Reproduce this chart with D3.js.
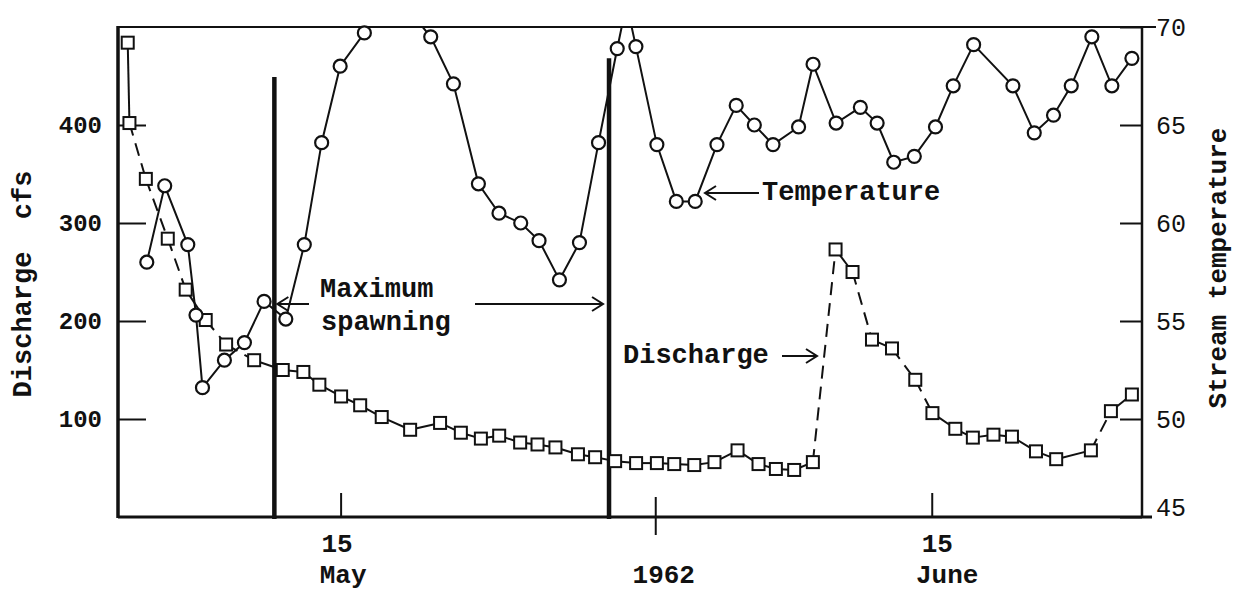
<!DOCTYPE html>
<html>
<head>
<meta charset="utf-8">
<script src="https://cdn.jsdelivr.net/npm/d3@7"></script>
<style>
  body { margin: 0; background: #fff; }
  svg { display: block; }
  text { font-family: "Liberation Mono", "DejaVu Sans Mono", monospace; fill: #111; }
</style>
</head>
<body>
<script>
// discharge (cfs), day counted from 1 May 1962
var dischargeDays = [3.81, 3.90, 4.76, 5.91, 6.85, 7.90, 8.97, 10.44, 11.94, 13.02,
                     13.86, 15.0, 16.0, 17.13, 18.62, 20.19, 21.28, 22.33, 23.29, 24.39,
                     25.30, 26.24, 27.42, 28.32, 29.37, 30.47, 31.56, 32.47, 33.52, 34.58,
                     35.79, 36.89, 37.80, 38.76, 39.74, 40.93, 41.82, 42.84, 43.89, 45.11,
                     46.01, 47.21, 48.13, 49.21, 50.18, 51.44, 52.50, 54.32, 55.37, 56.47];
var dischargeCfs = [484, 402, 345, 284, 232, 201, 176, 160, 150, 148,
                    135, 123, 114, 102, 89, 96, 86, 80, 83, 76,
                    74, 71, 64, 61, 57, 55, 55, 54, 53, 56,
                    68, 54, 49, 48, 56, 273, 250, 181, 172, 140,
                    106, 90, 81, 84, 82, 67, 59, 68, 108, 125];
// segments drawn dashed in the original (index of first point)
var dashedAfter = [1, 2, 3, 5, 6, 34, 36, 38, 39, 47];

// stream temperature (F); 71.5 and 71.2 run above the frame (estimated)
var tempDays = [4.81, 5.75, 6.96, 7.39, 7.73, 8.88, 9.93, 10.96, 12.10, 13.07,
                13.98, 14.95, 16.22, 18.0, 19.70, 20.89, 22.20, 23.28, 24.42, 25.38,
                26.45, 27.50, 28.50, 29.48, 29.97, 30.46, 31.56, 32.58, 33.57, 34.71,
                35.72, 36.67, 37.65, 38.99, 39.75, 40.96, 42.23, 43.11, 43.98, 45.06,
                46.17, 47.1, 48.17, 50.23, 51.35, 52.36, 53.29, 54.37, 55.42, 56.47];
var tempF = [58.0, 61.9, 58.9, 55.3, 51.6, 53.0, 53.9, 56.0, 55.1, 58.9,
             64.1, 68.0, 69.7, 71.5, 69.5, 67.1, 62.0, 60.5, 60.0, 59.1,
             57.1, 59.0, 64.1, 68.9, 71.2, 69.0, 64.0, 61.1, 61.1, 64.0,
             66.0, 65.0, 64.0, 64.9, 68.1, 65.1, 65.9, 65.1, 63.1, 63.4,
             64.9, 67.0, 69.1, 67.0, 64.6, 65.5, 67.0, 69.5, 67.0, 68.4];

// maximum spawning markers
var spawnDays = [11.5, 29.05];
var spawnTopCfs = [449, 468];

var leftTicks = [100, 200, 300, 400];
var rightTicks = [45, 50, 55, 60, 65, 70];
var xTickDays = [15, 31.5, 46];
var xTickNums = ["15", "", "15"];
var xTickMonths = ["May", "1962", "June"];

var W = 1235, H = 592;
var pL = 118, pR = 1142, pT = 27, pB = 517;

var svg = d3.select("body").append("svg")
    .attr("width", W)
    .attr("height", H);

var x = d3.scaleLinear().domain([3.3, 57.0]).range([pL, pR]);
var yQ = d3.scaleLinear().domain([0, 500]).range([pB, pT]);
var yT = d3.scaleLinear().domain([45, 70]).range([pB, pT]);

svg.append("clipPath").attr("id", "plot")
  .append("rect")
    .attr("x", pL).attr("y", pT)
    .attr("width", pR - pL).attr("height", pB - pT);

// frame
svg.append("line").attr("x1", pL).attr("x2", pR + 14).attr("y1", pT).attr("y2", pT)
   .attr("stroke", "#111").attr("stroke-width", 2);
svg.append("line").attr("x1", pL).attr("x2", pR + 10).attr("y1", pB).attr("y2", pB)
   .attr("stroke", "#111").attr("stroke-width", 3);
svg.append("line").attr("x1", pL).attr("x2", pL).attr("y1", pT - 1).attr("y2", pB + 1)
   .attr("stroke", "#111").attr("stroke-width", 3.5);
svg.append("line").attr("x1", pR).attr("x2", pR).attr("y1", pT - 1).attr("y2", pB + 1)
   .attr("stroke", "#111").attr("stroke-width", 2.5);

// left axis
var gl = svg.append("g")
    .attr("transform", "translate(" + pL + ",0)")
    .call(d3.axisLeft(yQ).tickValues(leftTicks).tickSize(-28).tickPadding(16));
gl.select(".domain").remove();
gl.selectAll("line").attr("stroke", "#111").attr("stroke-width", 2);
gl.selectAll("text").attr("font-size", 24).attr("font-weight", "bold")
   .attr("font-family", "Liberation Mono").attr("fill", "#111");

// right axis
var gr = svg.append("g")
    .attr("transform", "translate(" + pR + ",0)")
    .call(d3.axisRight(yT).tickValues(rightTicks).tickSize(-22).tickPadding(14));
gr.select(".domain").remove();
gr.selectAll("line").attr("stroke", "#111").attr("stroke-width", 2);
gr.selectAll("text").attr("font-size", 25)
   .attr("font-family", "Liberation Mono").attr("fill", "#111");
gr.selectAll(".tick").filter(function(d) { return d == 45; }).select("text").attr("dy", "-0.05em");

// bottom ticks
svg.selectAll(".xtick")
   .data(xTickDays)
   .enter()
   .append("line")
   .attr("x1", function(d) { return x(d); })
   .attr("x2", function(d) { return x(d); })
   .attr("y1", function(d, i) { return i == 1 ? pB - 20 : pB - 24; })
   .attr("y2", function(d, i) { return i == 1 ? pB + 18 : pB; })
   .attr("stroke", "#111")
   .attr("stroke-width", 2);

var numOff = [-4, 0, 5];
var monOff = [2, 8, 15];
svg.selectAll(".xnum")
   .data(xTickDays)
   .enter()
   .append("text")
   .text(function(d, i) { return xTickNums[i]; })
   .attr("x", function(d, i) { return x(d) + numOff[i]; })
   .attr("y", 552)
   .attr("text-anchor", "middle")
   .attr("font-size", 26)
   .attr("font-weight", "bold");
svg.selectAll(".xmon")
   .data(xTickDays)
   .enter()
   .append("text")
   .text(function(d, i) { return xTickMonths[i]; })
   .attr("x", function(d, i) { return x(d) + monOff[i]; })
   .attr("y", 583)
   .attr("text-anchor", "middle")
   .attr("font-size", 26)
   .attr("font-weight", "bold");

// axis titles
svg.append("text")
   .attr("transform", "translate(31,284) rotate(-90)")
   .attr("text-anchor", "middle")
   .attr("font-size", 27)
   .attr("font-weight", "bold")
   .style("white-space", "pre")
   .text("Discharge  cfs");
svg.append("text")
   .attr("transform", "translate(1226,268) rotate(-90)")
   .attr("text-anchor", "middle")
   .attr("font-size", 26)
   .attr("font-weight", "bold")
   .text("Stream temperature");

// spawning markers
svg.selectAll(".spawn")
   .data(spawnDays)
   .enter()
   .append("line")
   .attr("x1", function(d) { return x(d); })
   .attr("x2", function(d) { return x(d); })
   .attr("y1", function(d, i) { return yQ(spawnTopCfs[i]); })
   .attr("y2", pB + 2)
   .attr("stroke", "#111")
   .attr("stroke-width", 4.5);

// discharge line, segment by segment
var qPts = dischargeDays.map(function(d, i) { return [x(d), yQ(dischargeCfs[i])]; });
var segs = d3.range(qPts.length - 1);
svg.selectAll(".qseg")
   .data(segs)
   .enter()
   .append("line")
   .attr("x1", function(i) { return qPts[i][0]; })
   .attr("y1", function(i) { return qPts[i][1]; })
   .attr("x2", function(i) { return qPts[i + 1][0]; })
   .attr("y2", function(i) { return qPts[i + 1][1]; })
   .attr("stroke", "#111")
   .attr("stroke-width", 2)
   .attr("stroke-dasharray", function(i) { return dashedAfter.indexOf(i) >= 0 ? "13,8" : null; });

// temperature line
var tLine = d3.line()
    .x(function(d, i) { return x(tempDays[i]); })
    .y(function(d) { return yT(d); });
svg.append("path")
   .datum(tempF)
   .attr("d", tLine)
   .attr("clip-path", "url(#plot)")
   .attr("fill", "none")
   .attr("stroke", "#111")
   .attr("stroke-width", 2);

// markers
svg.selectAll(".sq")
   .data(dischargeCfs)
   .enter()
   .append("rect")
   .attr("x", function(d, i) { return x(dischargeDays[i]) - 6; })
   .attr("y", function(d) { return yQ(d) - 6; })
   .attr("width", 12)
   .attr("height", 12)
   .attr("fill", "#fff")
   .attr("stroke", "#111")
   .attr("stroke-width", 2);

svg.selectAll(".circ")
   .data(tempF.map(function(d, i) { return i; }).filter(function(i) { return tempF[i] <= 70; }))
   .enter()
   .append("circle")
   .attr("cx", function(i) { return x(tempDays[i]); })
   .attr("cy", function(i) { return yT(tempF[i]); })
   .attr("r", 6.5)
   .attr("fill", "#fff")
   .attr("stroke", "#111")
   .attr("stroke-width", 2.2);

// annotations
function arrow(x1, x2, y) {
  var dir = x2 > x1 ? -1 : 1;
  svg.append("line").attr("x1", x1).attr("x2", x2).attr("y1", y).attr("y2", y)
     .attr("stroke", "#111").attr("stroke-width", 2);
  svg.append("path")
     .attr("d", "M" + (x2 + dir * 11) + "," + (y - 7) + "L" + x2 + "," + y + "L" + (x2 + dir * 11) + "," + (y + 7))
     .attr("fill", "none").attr("stroke", "#111").attr("stroke-width", 2);
}

svg.append("text").attr("x", 320).attr("y", 297).attr("font-size", 27).attr("font-weight", "bold").text("Maximum");
svg.append("text").attr("x", 321).attr("y", 330).attr("font-size", 27).attr("font-weight", "bold").text("spawning");
arrow(309, x(spawnDays[0]) + 3, 304);
arrow(475, x(spawnDays[1]) - 6, 304);

svg.append("text").attr("x", 762).attr("y", 200).attr("font-size", 27).attr("font-weight", "bold").text("Temperature");
arrow(759, 705, 193);

svg.append("text").attr("x", 623).attr("y", 363).attr("font-size", 27).attr("font-weight", "bold").text("Discharge");
arrow(782, 817, 356);
</script>
</body>
</html>
